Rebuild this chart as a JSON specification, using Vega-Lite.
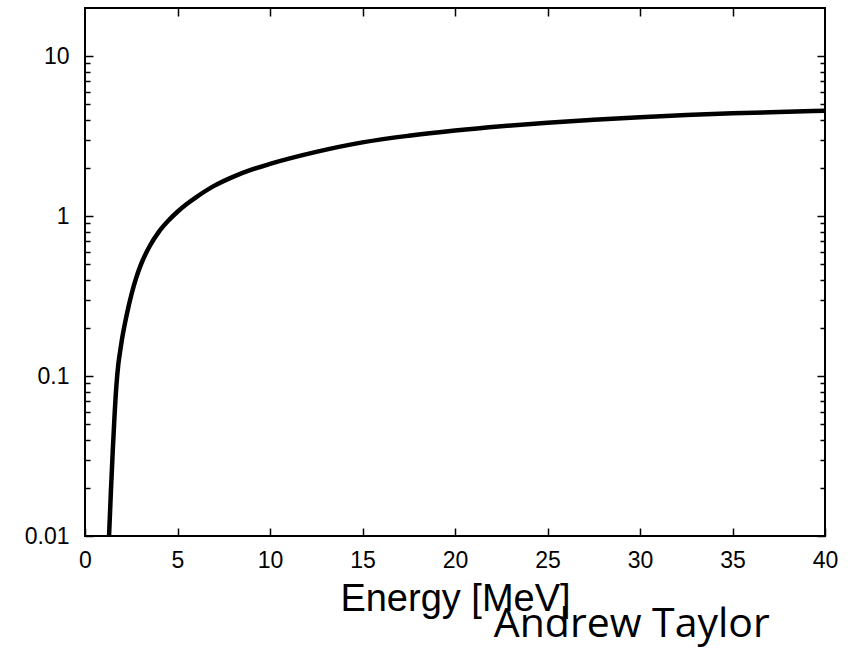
{
  "$schema": "https://vega.github.io/schema/vega-lite/v6.json",
  "autosize": "none",
  "width": 740,
  "height": 528,
  "padding": {"left": 85, "top": 8, "right": 23, "bottom": 117},
  "background": "white",
  "config": {
    "view": {"stroke": "black", "strokeWidth": 2},
    "axis": {"domain": false, "grid": false, "labelFont": "Liberation Sans", "labelFontSize": 23, "labelColor": "black", "tickColor": "black", "tickWidth": 1.5, "titleFont": "Liberation Sans", "titleColor": "black", "titleFontWeight": "normal"}
  },
  "title": {"text": "Andrew Taylor", "orient": "bottom", "anchor": "end", "dx": -68, "offset": -13, "font": "Open Sans", "fontSize": 41, "fontWeight": "normal", "color": "black"},
  "data": {"values": [
    {"energy": 1.3, "sigma": 0.01},
    {"energy": 1.4, "sigma": 0.019},
    {"energy": 1.5, "sigma": 0.034},
    {"energy": 1.6, "sigma": 0.0575},
    {"energy": 1.7, "sigma": 0.088},
    {"energy": 1.8, "sigma": 0.118},
    {"energy": 1.9, "sigma": 0.143},
    {"energy": 2.0, "sigma": 0.17},
    {"energy": 2.25, "sigma": 0.24},
    {"energy": 2.5, "sigma": 0.32},
    {"energy": 2.75, "sigma": 0.405},
    {"energy": 3.0, "sigma": 0.49},
    {"energy": 3.5, "sigma": 0.65},
    {"energy": 4.0, "sigma": 0.8},
    {"energy": 4.5, "sigma": 0.935},
    {"energy": 5.0, "sigma": 1.065},
    {"energy": 5.5, "sigma": 1.19},
    {"energy": 6.0, "sigma": 1.31},
    {"energy": 7.0, "sigma": 1.55},
    {"energy": 8.0, "sigma": 1.76},
    {"energy": 9.0, "sigma": 1.95},
    {"energy": 10.0, "sigma": 2.12},
    {"energy": 12.5, "sigma": 2.52},
    {"energy": 15.0, "sigma": 2.89},
    {"energy": 17.5, "sigma": 3.18},
    {"energy": 20.0, "sigma": 3.43},
    {"energy": 22.5, "sigma": 3.65},
    {"energy": 25.0, "sigma": 3.84},
    {"energy": 27.5, "sigma": 4.0},
    {"energy": 30.0, "sigma": 4.15},
    {"energy": 32.5, "sigma": 4.28},
    {"energy": 35.0, "sigma": 4.39},
    {"energy": 37.5, "sigma": 4.48},
    {"energy": 40.0, "sigma": 4.55}
  ]},
  "layer": [
    {
      "mark": {"type": "line", "color": "black", "strokeWidth": 4.5, "interpolate": "monotone", "clip": true},
      "encoding": {
        "x": {"field": "energy", "type": "quantitative", "scale": {"domain": [0, 40], "nice": false, "zero": false},
          "axis": {"orient": "bottom", "values": [0, 5, 10, 15, 20, 25, 30, 35, 40], "tickSize": -8, "labelPadding": 21, "labelFlush": false, "labelOverlap": false, "title": "Energy [MeV]", "titleFontSize": 38, "titlePadding": 8}},
        "y": {"field": "sigma", "type": "quantitative", "scale": {"type": "log", "domain": [0.01, 20], "nice": false},
          "axis": {"orient": "left", "values": [0.01,0.02,0.03,0.04,0.05,0.06,0.07,0.08,0.09,0.1,0.2,0.3,0.4,0.5,0.6,0.7,0.8,0.9,1,2,3,4,5,6,7,8,9,10],
            "tickSize": {"condition": {"test": "datum.value == 0.01 || datum.value == 0.1 || datum.value == 1 || datum.value == 10", "value": -8}, "value": -5},
            "labelExpr": "(datum.value == 0.01 || datum.value == 0.1 || datum.value == 1 || datum.value == 10) ? '' + datum.value : ''",
            "labelPadding": 24, "labelOverlap": false, "labelFlush": false, "title": null}}
      }
    },
    {
      "mark": {"type": "line", "opacity": 0},
      "encoding": {
        "x": {"field": "energy", "type": "quantitative",
          "axis": {"orient": "top", "values": [5, 10, 15, 20, 25, 30, 35], "tickSize": -8, "labels": false, "title": null}},
        "y": {"field": "sigma", "type": "quantitative",
          "axis": {"orient": "right", "values": [0.01,0.02,0.03,0.04,0.05,0.06,0.07,0.08,0.09,0.1,0.2,0.3,0.4,0.5,0.6,0.7,0.8,0.9,1,2,3,4,5,6,7,8,9,10],
            "tickSize": {"condition": {"test": "datum.value == 0.01 || datum.value == 0.1 || datum.value == 1 || datum.value == 10", "value": -8}, "value": -5},
            "labels": false, "title": null}}
      }
    }
  ],
  "resolve": {"axis": {"x": "independent", "y": "independent"}}
}
